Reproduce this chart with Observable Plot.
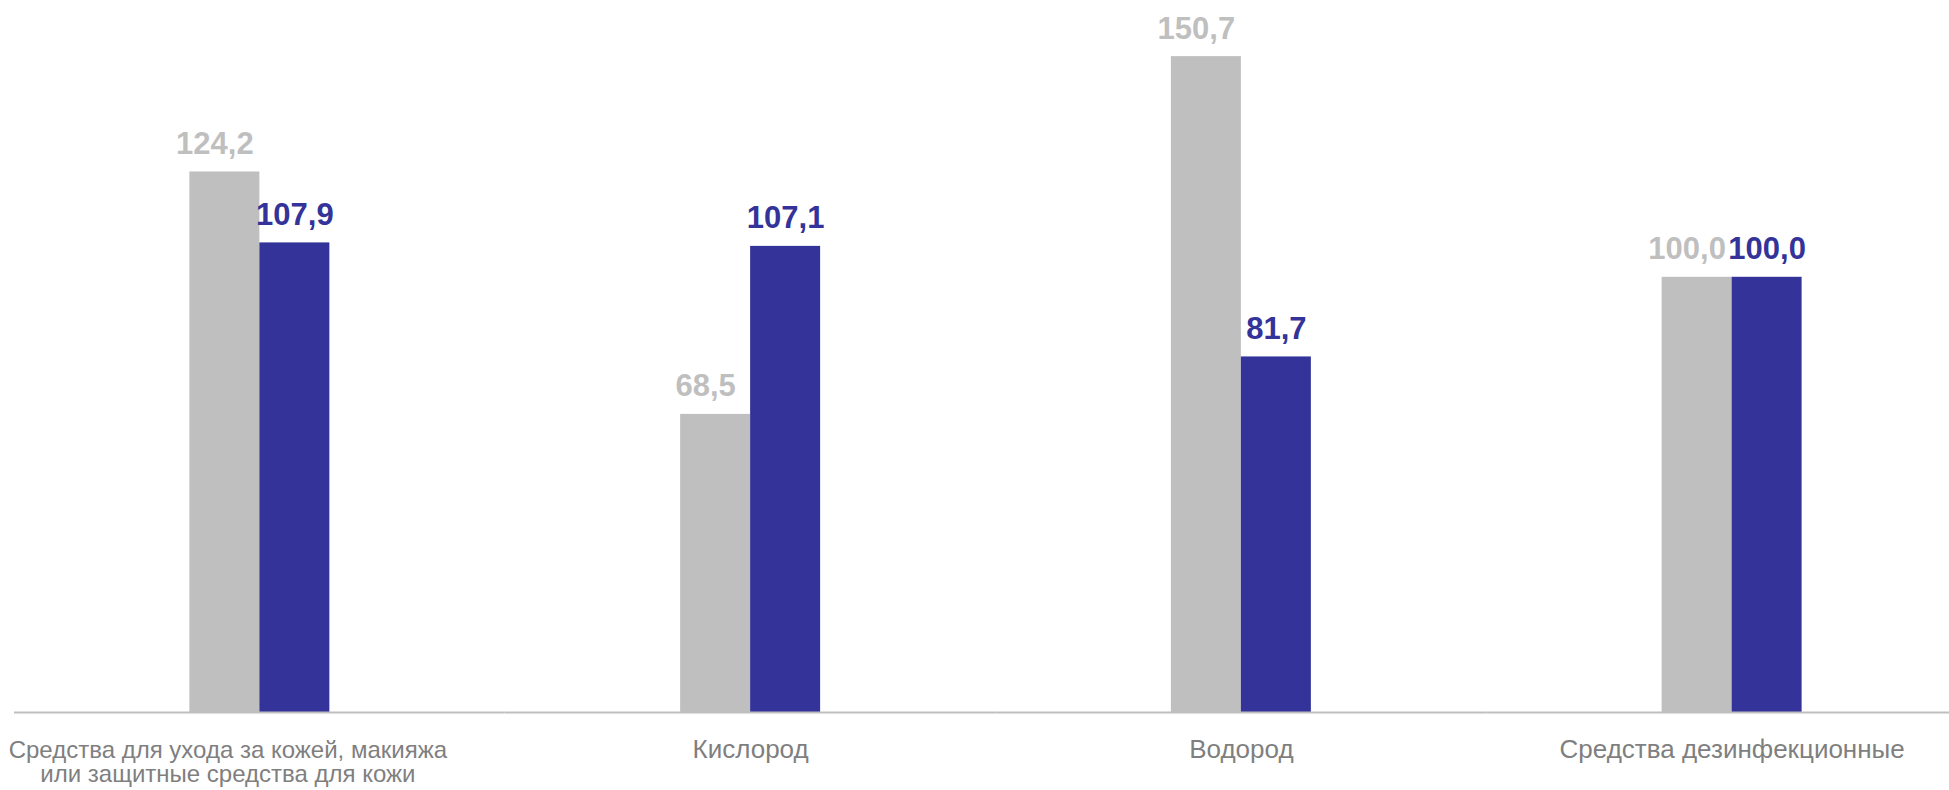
<!DOCTYPE html>
<html>
<head>
<meta charset="utf-8">
<script src="https://cdn.jsdelivr.net/npm/d3@7"></script>
<script src="https://cdn.jsdelivr.net/npm/@observablehq/plot@0.6"></script>
<style>
  html, body { margin: 0; padding: 0; background: #fff; }
  #chart svg { display: block; }
</style>
</head>
<body>
<div id="chart"></div>
<script>
const categories = [
  "Средства для ухода за кожей, макияжа\nили защитные средства для кожи",
  "Кислород",
  "Водород",
  "Средства дезинфекционные"
];
const seriesNames = ["Период 1", "Период 2"];
const seriesColors = ["#BFBFBF", "#333399"];
const values1 = [124.2, 68.5, 150.7, 100.0];
const values2 = [107.9, 107.1, 81.7, 100.0];

const rows = [];
categories.forEach((c, i) => {
  rows.push({category: c, series: seriesNames[0], value: values1[i]});
  rows.push({category: c, series: seriesNames[1], value: values2[i]});
});
const fmt = v => d3.format(".1f")(v).replace(".", ",");
const FONT = "'Liberation Sans', Arial, sans-serif";

const chart = Plot.plot({
  width: 1949,
  height: 790,
  marginTop: 0,
  marginBottom: 78,
  marginLeft: 14,
  marginRight: 0,
  style: {fontFamily: FONT, background: "#fff"},
  fx: {domain: categories, range: [14, 1977], padding: 0, axis: null, round: false},
  x: {domain: seriesNames, range: [14, 504.75], paddingInner: 0, paddingOuter: 2.506, axis: null, round: false},
  y: {domain: [0, 163.6], axis: null},
  color: {domain: seriesNames, range: seriesColors},
  marks: [
    Plot.barY(rows, {fx: "category", x: "series", y: "value", fill: "series"}),
    Plot.ruleY([0], {stroke: "#BFBFBF", strokeWidth: 2}),
    Plot.text(rows.filter(d => d.series === seriesNames[0]), {
      fx: "category", x: "series", y: "value", text: d => fmt(d.value),
      fill: seriesColors[0], fontSize: 31, fontWeight: "bold",
      lineAnchor: "bottom", dy: -18, dx: -10
    }),
    Plot.text(rows.filter(d => d.series === seriesNames[1]), {
      fx: "category", x: "series", y: "value", text: d => fmt(d.value),
      fill: seriesColors[1], fontSize: 31, fontWeight: "bold",
      lineAnchor: "bottom", dy: -18
    }),
    Plot.text(categories.slice(0, 1), {
      fx: d => d, text: d => d, frameAnchor: "bottom", lineAnchor: "top",
      dy: 28, dx: -32, fill: "#7F7F7F", fontSize: 24, lineHeight: 1.0
    }),
    Plot.text(categories.slice(1), {
      fx: d => d, text: d => d, frameAnchor: "bottom", lineAnchor: "top",
      dy: 27, fill: "#7F7F7F", fontSize: 26, lineHeight: 1.0
    })
  ]
});
document.getElementById("chart").append(chart);
</script>
</body>
</html>
